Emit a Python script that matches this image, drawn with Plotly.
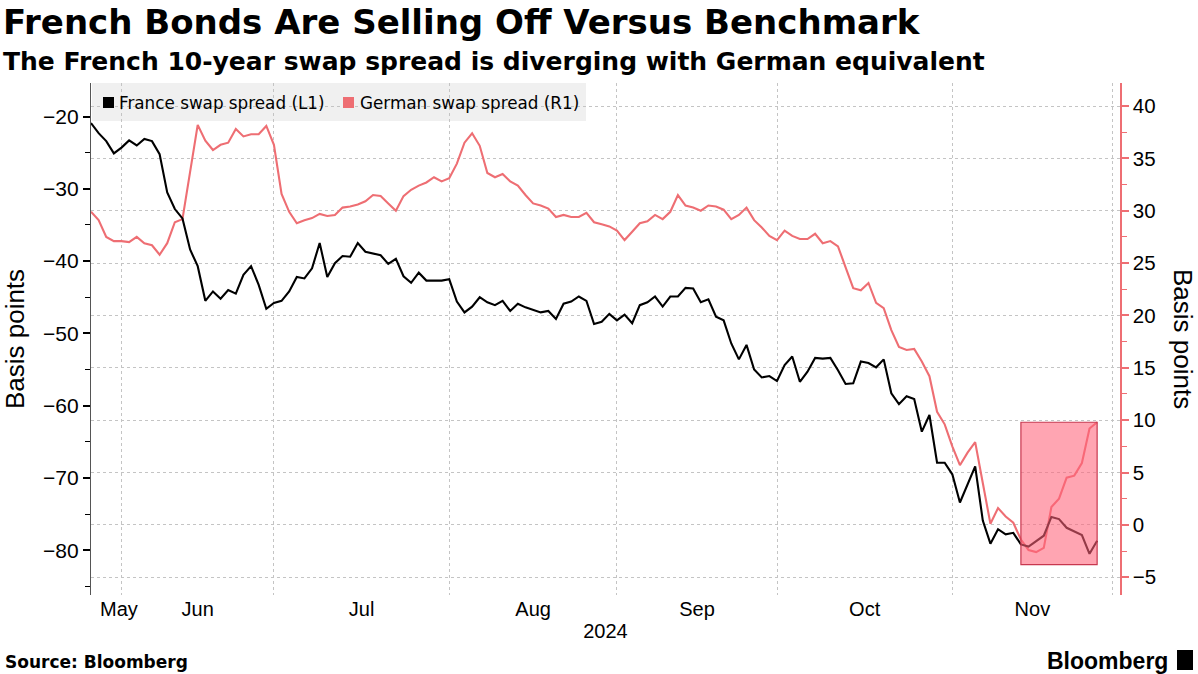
import pandas as pd
import plotly.graph_objects as go

# ---------------- data ----------------
dates = pd.bdate_range("2024-05-27", "2024-11-27").strftime("%Y-%m-%d").tolist()  # 133 business days

france = [
    -20.9, -22.3, -23.4, -25.1, -24.3, -23.3, -24.0, -23.1, -23.4, -25.2,
    -30.5, -32.8, -34.1, -38.4, -40.7, -45.5, -44.2, -45.2, -44.0, -44.5,
    -41.9, -40.7, -43.3, -46.6, -45.8, -45.5, -44.2, -42.2, -42.4, -41.0,
    -37.5, -42.2, -40.3, -39.3, -39.4, -37.5, -38.7, -39.0, -39.2, -40.4,
    -39.7, -42.1, -43.0, -41.6, -42.7, -42.7, -42.7, -42.5, -45.6, -47.1,
    -46.3, -45.0, -45.7, -46.1, -45.5, -46.9, -45.9, -46.4, -46.7, -47.1,
    -46.9, -48.0, -45.9, -45.6, -44.9, -45.5, -48.7, -48.4, -47.3, -48.2,
    -47.4, -48.6, -46.1, -45.7, -44.9, -46.3, -44.9, -44.9, -43.7, -43.8,
    -45.7, -45.3, -47.7, -48.2, -51.4, -53.6, -51.6, -55.0, -56.1, -55.9,
    -56.6, -54.4, -53.2, -56.7, -55.3, -53.4, -53.5, -53.4, -55.1, -57.0,
    -56.9, -53.9, -54.1, -54.7, -53.6, -58.3, -59.8, -58.7, -59.1, -63.6,
    -61.3, -67.9, -67.9, -69.5, -73.4, -70.9, -68.4, -75.9, -79.1, -77.1,
    -77.8, -77.6, -79.2, -79.5, -78.8, -78.0, -75.4, -75.7, -76.9, -77.4,
    -77.9, -80.5, -78.7,
]

german = [
    29.9, 29.1, 27.5, 27.1, 27.1, 27.0, 27.5, 26.9, 26.7, 25.8,
    26.9, 28.9, 29.2, 33.7, 38.2, 36.7, 35.8, 36.3, 36.5, 37.8,
    37.1, 37.3, 37.3, 38.1, 36.3, 31.6, 29.9, 28.8, 29.1, 29.3,
    29.7, 29.5, 29.6, 30.3, 30.4, 30.6, 30.9, 31.5, 31.4, 30.7,
    30.0, 31.4, 32.0, 32.4, 32.7, 33.2, 32.8, 33.1, 34.5, 36.5,
    37.4, 36.2, 33.6, 33.2, 33.5, 32.8, 32.4, 31.5, 30.7, 30.5,
    30.2, 29.4, 29.6, 29.4, 29.4, 29.8, 28.9, 28.7, 28.5, 28.1,
    27.2, 28.0, 28.8, 29.0, 29.6, 29.2, 29.9, 31.5, 30.5, 30.3,
    30.0, 30.5, 30.4, 30.1, 29.2, 29.6, 30.3, 29.1, 28.4, 27.6,
    27.2, 28.1, 27.6, 27.3, 27.3, 27.8, 26.9, 27.1, 26.6, 24.6,
    22.6, 22.4, 23.1, 21.2, 20.7, 18.6, 17.0, 16.7, 16.8, 15.6,
    14.2, 10.8, 9.6, 7.5, 5.7, 6.9, 7.9, 4.0, 0.1, 1.6,
    0.8, 0.2, -1.4, -2.4, -2.6, -2.2, 1.7, 2.5, 4.5, 4.7,
    5.9, 9.2, 9.8,
]

series_names = ["France swap spread (L1)", "German swap spread (R1)"]

month_labels = ["May", "Jun", "Jul", "Aug", "Sep", "Oct", "Nov"]
month_label_dates = ["2024-05-30 16:00", "2024-06-14", "2024-07-15 12:00", "2024-08-15",
                     "2024-09-13 12:00", "2024-10-15 12:00", "2024-11-14 12:00"]
month_grid_dates = ["2024-05-31", "2024-06-28", "2024-07-31", "2024-08-30",
                    "2024-09-30", "2024-10-31", "2024-11-29"]

left_ticks = [-80, -70, -60, -50, -40, -30, -20]
right_ticks = [-5, 0, 5, 10, 15, 20, 25, 30, 35, 40]

highlight_x = ["2024-11-13", "2024-11-27"]
highlight_y = [-3.8, 9.8]

# ---------------- style ----------------
RED = "#ee6e73"
GRID = "#c4c4c4"
PL, PR, PT, PB = 91, 1120, 83, 595
W, H = 1198, 674


def px_x(px):
    return (px - PL) / (PR - PL)


def px_y(py):
    return (PB - py) / (PB - PT)


fig = go.Figure()

# German on base (right) axis, France on overlaying (left) axis so black is drawn on top
fig.add_trace(go.Scatter(x=dates, y=german, mode="lines", yaxis="y",
                         line=dict(color=RED, width=2.1), name=series_names[1]))
fig.add_trace(go.Scatter(x=dates, y=france, mode="lines", yaxis="y2",
                         line=dict(color="#000000", width=2.1), name=series_names[0]))

fig.add_shape(type="rect", xref="x", yref="y",
              x0=highlight_x[0], x1=highlight_x[1], y0=highlight_y[0], y1=highlight_y[1],
              fillcolor="rgba(255,100,122,0.58)", line=dict(color="#c8384f", width=1.2),
              layer="above")

fig.update_layout(
    width=W, height=H,
    margin=dict(l=PL, r=W - PR, t=PT, b=H - PB, pad=0, autoexpand=False),
    paper_bgcolor="white", plot_bgcolor="white",
    font=dict(family="Liberation Sans", color="#000000", size=20),
    showlegend=False,
    hovermode=False,
    xaxis=dict(
        type="date",
        range=["2024-05-27", "2024-12-02"],
        rangebreaks=[dict(bounds=["sat", "mon"])],
        tickmode="array", tickvals=month_label_dates, ticktext=month_labels,
        ticks="", showgrid=False, showline=False, zeroline=False,
        tickfont=dict(family="Liberation Sans", size=20),
        minor=dict(tickmode="array", tickvals=month_grid_dates, showgrid=True,
                   gridcolor=GRID, griddash="dot", gridwidth=1, ticks=""),
        title=dict(text="2024", font=dict(family="Liberation Sans", size=20), standoff=4),
    ),
    yaxis=dict(
        side="right", range=[-6.7, 42.2],
        tickmode="array", tickvals=right_ticks,
        showgrid=True, gridcolor=GRID, griddash="dot", gridwidth=1,
        zeroline=False, showline=True, linecolor=RED, linewidth=1.5,
        ticks="outside", ticklen=7, tickwidth=2, tickcolor=RED,
        minor=dict(dtick=2.5, tick0=0, ticks="outside", ticklen=5, tickwidth=1,
                   tickcolor=RED, showgrid=False),
        tickfont=dict(family="Liberation Sans", size=20.5),
    ),
    yaxis2=dict(
        overlaying="y", side="left", range=[-86.2, -15.36],
        tickmode="array", tickvals=left_ticks,
        showgrid=False, zeroline=False, showline=True, linecolor="#555555", linewidth=1.2,
        ticks="outside", ticklen=7, tickwidth=2, tickcolor="#000000",
        minor=dict(dtick=5, tick0=0, ticks="outside", ticklen=5, tickwidth=1,
                   tickcolor="#000000", showgrid=False),
        tickfont=dict(family="Liberation Sans", size=21),
        title=dict(text="Basis points", font=dict(family="Liberation Sans", size=26), standoff=10),
    ),
)

# ---- legend (drawn as a keyed box, Bloomberg style) ----
legend_colors = ["#000000", RED]
legend_square_x = [103, 343]
legend_text_x = [117, 358]
fig.add_shape(type="rect", xref="paper", yref="paper",
              x0=px_x(92), x1=px_x(586), y0=px_y(121), y1=px_y(83),
              fillcolor="#f0f0f0", line=dict(width=0), layer="below")
annotations = []
for name, col, sx, tx in zip(series_names, legend_colors, legend_square_x, legend_text_x):
    fig.add_shape(type="rect", xref="paper", yref="paper",
                  x0=px_x(sx), x1=px_x(sx + 11), y0=px_y(108), y1=px_y(97),
                  fillcolor=col, line=dict(width=0), layer="above")
    annotations.append(dict(text=name, xref="paper", yref="paper", x=px_x(tx), y=px_y(102.5),
                            xanchor="left", yanchor="middle", showarrow=False,
                            font=dict(family="DejaVu Sans", size=16.8, color="#000000")))

annotations += [
    # right-axis title, reading top-to-bottom as in the original
    dict(text="Basis points", xref="paper", yref="paper", x=px_x(1183), y=px_y(339),
         xanchor="center", yanchor="middle", textangle=90, showarrow=False,
         font=dict(family="Liberation Sans", size=26, color="#000000")),
    dict(text="<b>French Bonds Are Selling Off Versus Benchmark</b>", xref="paper", yref="paper",
         x=px_x(1), y=px_y(0), xanchor="left", yanchor="top", showarrow=False,
         font=dict(family="DejaVu Sans", size=34, color="#000000")),
    dict(text="<b>The French 10-year swap spread is diverging with German equivalent</b>",
         xref="paper", yref="paper", x=px_x(1), y=px_y(45), xanchor="left", yanchor="top",
         showarrow=False, font=dict(family="DejaVu Sans", size=25, color="#000000")),
    dict(text="<b>Source: Bloomberg</b>", xref="paper", yref="paper",
         x=px_x(3), y=px_y(662), xanchor="left", yanchor="middle", showarrow=False,
         font=dict(family="DejaVu Sans", size=17, color="#000000")),
    dict(text="<b>Bloomberg</b>", xref="paper", yref="paper",
         x=px_x(1170), y=px_y(661), xanchor="right", yanchor="middle", showarrow=False,
         font=dict(family="Liberation Sans", size=23, color="#000000")),
]
fig.update_layout(annotations=annotations)

fig.add_shape(type="rect", xref="paper", yref="paper",
              x0=px_x(1177), x1=px_x(1193), y0=px_y(670), y1=px_y(650),
              fillcolor="#000000", line=dict(width=0), layer="above")

fig.write_html("out.html", config={"displayModeBar": False},
               post_script="document.body.style.margin='0';")
